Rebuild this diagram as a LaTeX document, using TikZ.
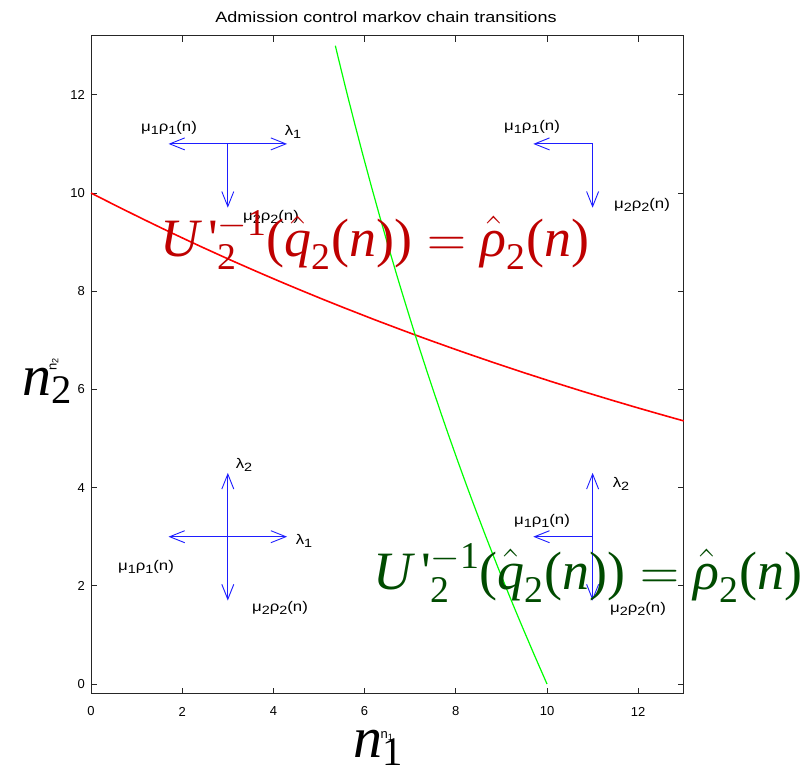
\documentclass[tikz,border=0pt]{standalone}
\usepackage{fix-cm}
\usepackage{amsmath}
\usepackage{fontspec}
\setmainfont{Liberation Sans}
\newfontfamily\tms{Liberation Serif}
\usetikzlibrary{arrows.meta}
\definecolor{qblue}{RGB}{30,30,255}
\definecolor{fred}{RGB}{190,0,0}
\definecolor{fgreen}{RGB}{0,75,0}
\newcommand\ti[1]{\text{\tms\itshape #1}}
\newcommand\tu[1]{\text{\tms #1}}
\newcommand\sbs[1]{\raisebox{-0.45ex}{\fontsize{12}{12}\selectfont #1}}
\newcommand\mr[1]{\scalebox{1.2}[1]{\fontsize{14}{14}\selectfont μ\sbs{#1}ρ\sbs{#1}(n)}}
\newcommand\lm[1]{\scalebox{1.2}[1]{\fontsize{14}{14}\selectfont λ\sbs{#1}}}
\newcommand\bigeq{$\ti{U}\,\tu{\char"0027}^{-\tu{1}}_{\tu{2}}\tu{(}\hat{\ti{q}}_{\tu{2}}\tu{(}\ti{n}\tu{))}=\hat{\ti{ρ}}_{\tu{2}}\tu{(}\ti{n}\tu{)}$}
\tikzset{
  axisline/.style={draw=black!85, line width=0.8pt},
  ticklab/.style={font=\fontsize{13}{15}\selectfont, inner sep=0pt},
  qv/.style={draw=qblue, line width=0.9pt, -{Straight Barb[length=15pt,width=12pt]}},
  qlab/.style={inner sep=0pt, text=black},
  bigred/.style={anchor=base west, inner sep=0pt, text=fred, font=\fontsize{54}{60}\selectfont},
  biggreen/.style={anchor=base west, inner sep=0pt, text=fgreen, font=\fontsize{54}{60}\selectfont},
  axlab/.style={anchor=base west, inner sep=0pt, text=black, font=\fontsize{58}{64}\selectfont},
  smalllab/.style={inner sep=0pt, text=black, font=\fontsize{13}{14}\selectfont}
}
\begin{document}
\begin{tikzpicture}[x=1pt,y=-1pt]
\useasboundingbox (0,0) rectangle (806,772);
\fill[white] (0,0) rectangle (806,772);
\node[inner sep=0pt] (title) at (386,17) {\scalebox{1.2}[1]{\fontsize{15}{16}\selectfont Admission control markov chain transitions}};
\begin{scope}[shift={(91,684)},x=45.6pt,y=49.1pt]
  \draw[axisline] (0,-0.2) rectangle (13,13.2);
  \foreach \v in {0,2,...,12} {
    \draw[axisline] (\v,-0.2) -- ++(0,0.122);
    \draw[axisline] (\v,13.2) -- ++(0,-0.122);
    \node[ticklab] (xt\v) at (\v,-0.56) {\v};
    \draw[axisline] (0,\v) -- ++(0.13,0);
    \draw[axisline] (13,\v) -- ++(-0.13,0);
    \node[ticklab, anchor=east] (yt\v) at (-0.13,\v) {\v};
  }
  % curves
  \draw[red, line width=1.6pt] plot[domain=0:13, samples=60, smooth] (\x,{10*exp(-0.048*\x)});
  \draw[green, line width=1.2pt] plot[domain=0:13, samples=60, smooth] ({10*exp(-0.048*\x)},\x);
  % arrows
  \coordinate (A) at (3,11);  \coordinate (Al) at (1.7,11); \coordinate (Ar) at (4.3,11); \coordinate (Ad) at (3,9.7);
  \coordinate (B) at (11,11); \coordinate (Bl) at (9.7,11); \coordinate (Bd) at (11,9.7);
  \coordinate (C) at (3,3);   \coordinate (Cl) at (1.7,3);  \coordinate (Cr) at (4.3,3);  \coordinate (Cu) at (3,4.3); \coordinate (Cd) at (3,1.7);
  \coordinate (D) at (11,3);  \coordinate (Dl) at (9.7,3);  \coordinate (Du) at (11,4.3); \coordinate (Dd) at (11,1.7);
  \draw[qv] (A) -- (Al); \draw[qv] (A) -- (Ar); \draw[qv] (A) -- (Ad);
  \draw[qv] (B) -- (Bl); \draw[qv] (B) -- (Bd);
  \draw[qv] (C) -- (Cl); \draw[qv] (C) -- (Cr); \draw[qv] (C) -- (Cu); \draw[qv] (C) -- (Cd);
  \draw[qv] (D) -- (Dl); \draw[qv] (D) -- (Du); \draw[qv] (D) -- (Dd);
\end{scope}
% arrow labels
\node[qlab] (a1) at (169,128) {\mr{1}};
\node[qlab] (a2) at (293,132) {\lm{1}};
\node[qlab] (a3) at (271,217) {\mr{2}};
\node[qlab] (b1) at (532,127) {\mr{1}};
\node[qlab] (b2) at (642,205) {\mr{2}};
\node[qlab] (c1) at (244,465) {\lm{2}};
\node[qlab] (c2) at (304,541) {\lm{1}};
\node[qlab] (c3) at (146,567) {\mr{1}};
\node[qlab] (c4) at (280,608) {\mr{2}};
\node[qlab] (d1) at (621,484) {\lm{2}};
\node[qlab] (d2) at (542,521) {\mr{1}};
\node[qlab] (d3) at (638,609) {\mr{2}};
% small axis labels (mostly hidden under the big ones)
\node[smalllab] (sx) at (387,736) {n\textsubscript{1}};
\node[smalllab, rotate=90] (sy) at (54,364) {n\textsubscript{2}};
% big labels
\node[axlab] (ny) at (22,395) {$\ti{n}_{\tu{2}}$};
\node[axlab] (nx) at (353,757) {$\ti{n}_{\tu{1}}$};
\node[bigred] (fr) at (160,256) {\bigeq};
\node[biggreen] (fg) at (373,589) {\bigeq};
\end{tikzpicture}
\end{document}
